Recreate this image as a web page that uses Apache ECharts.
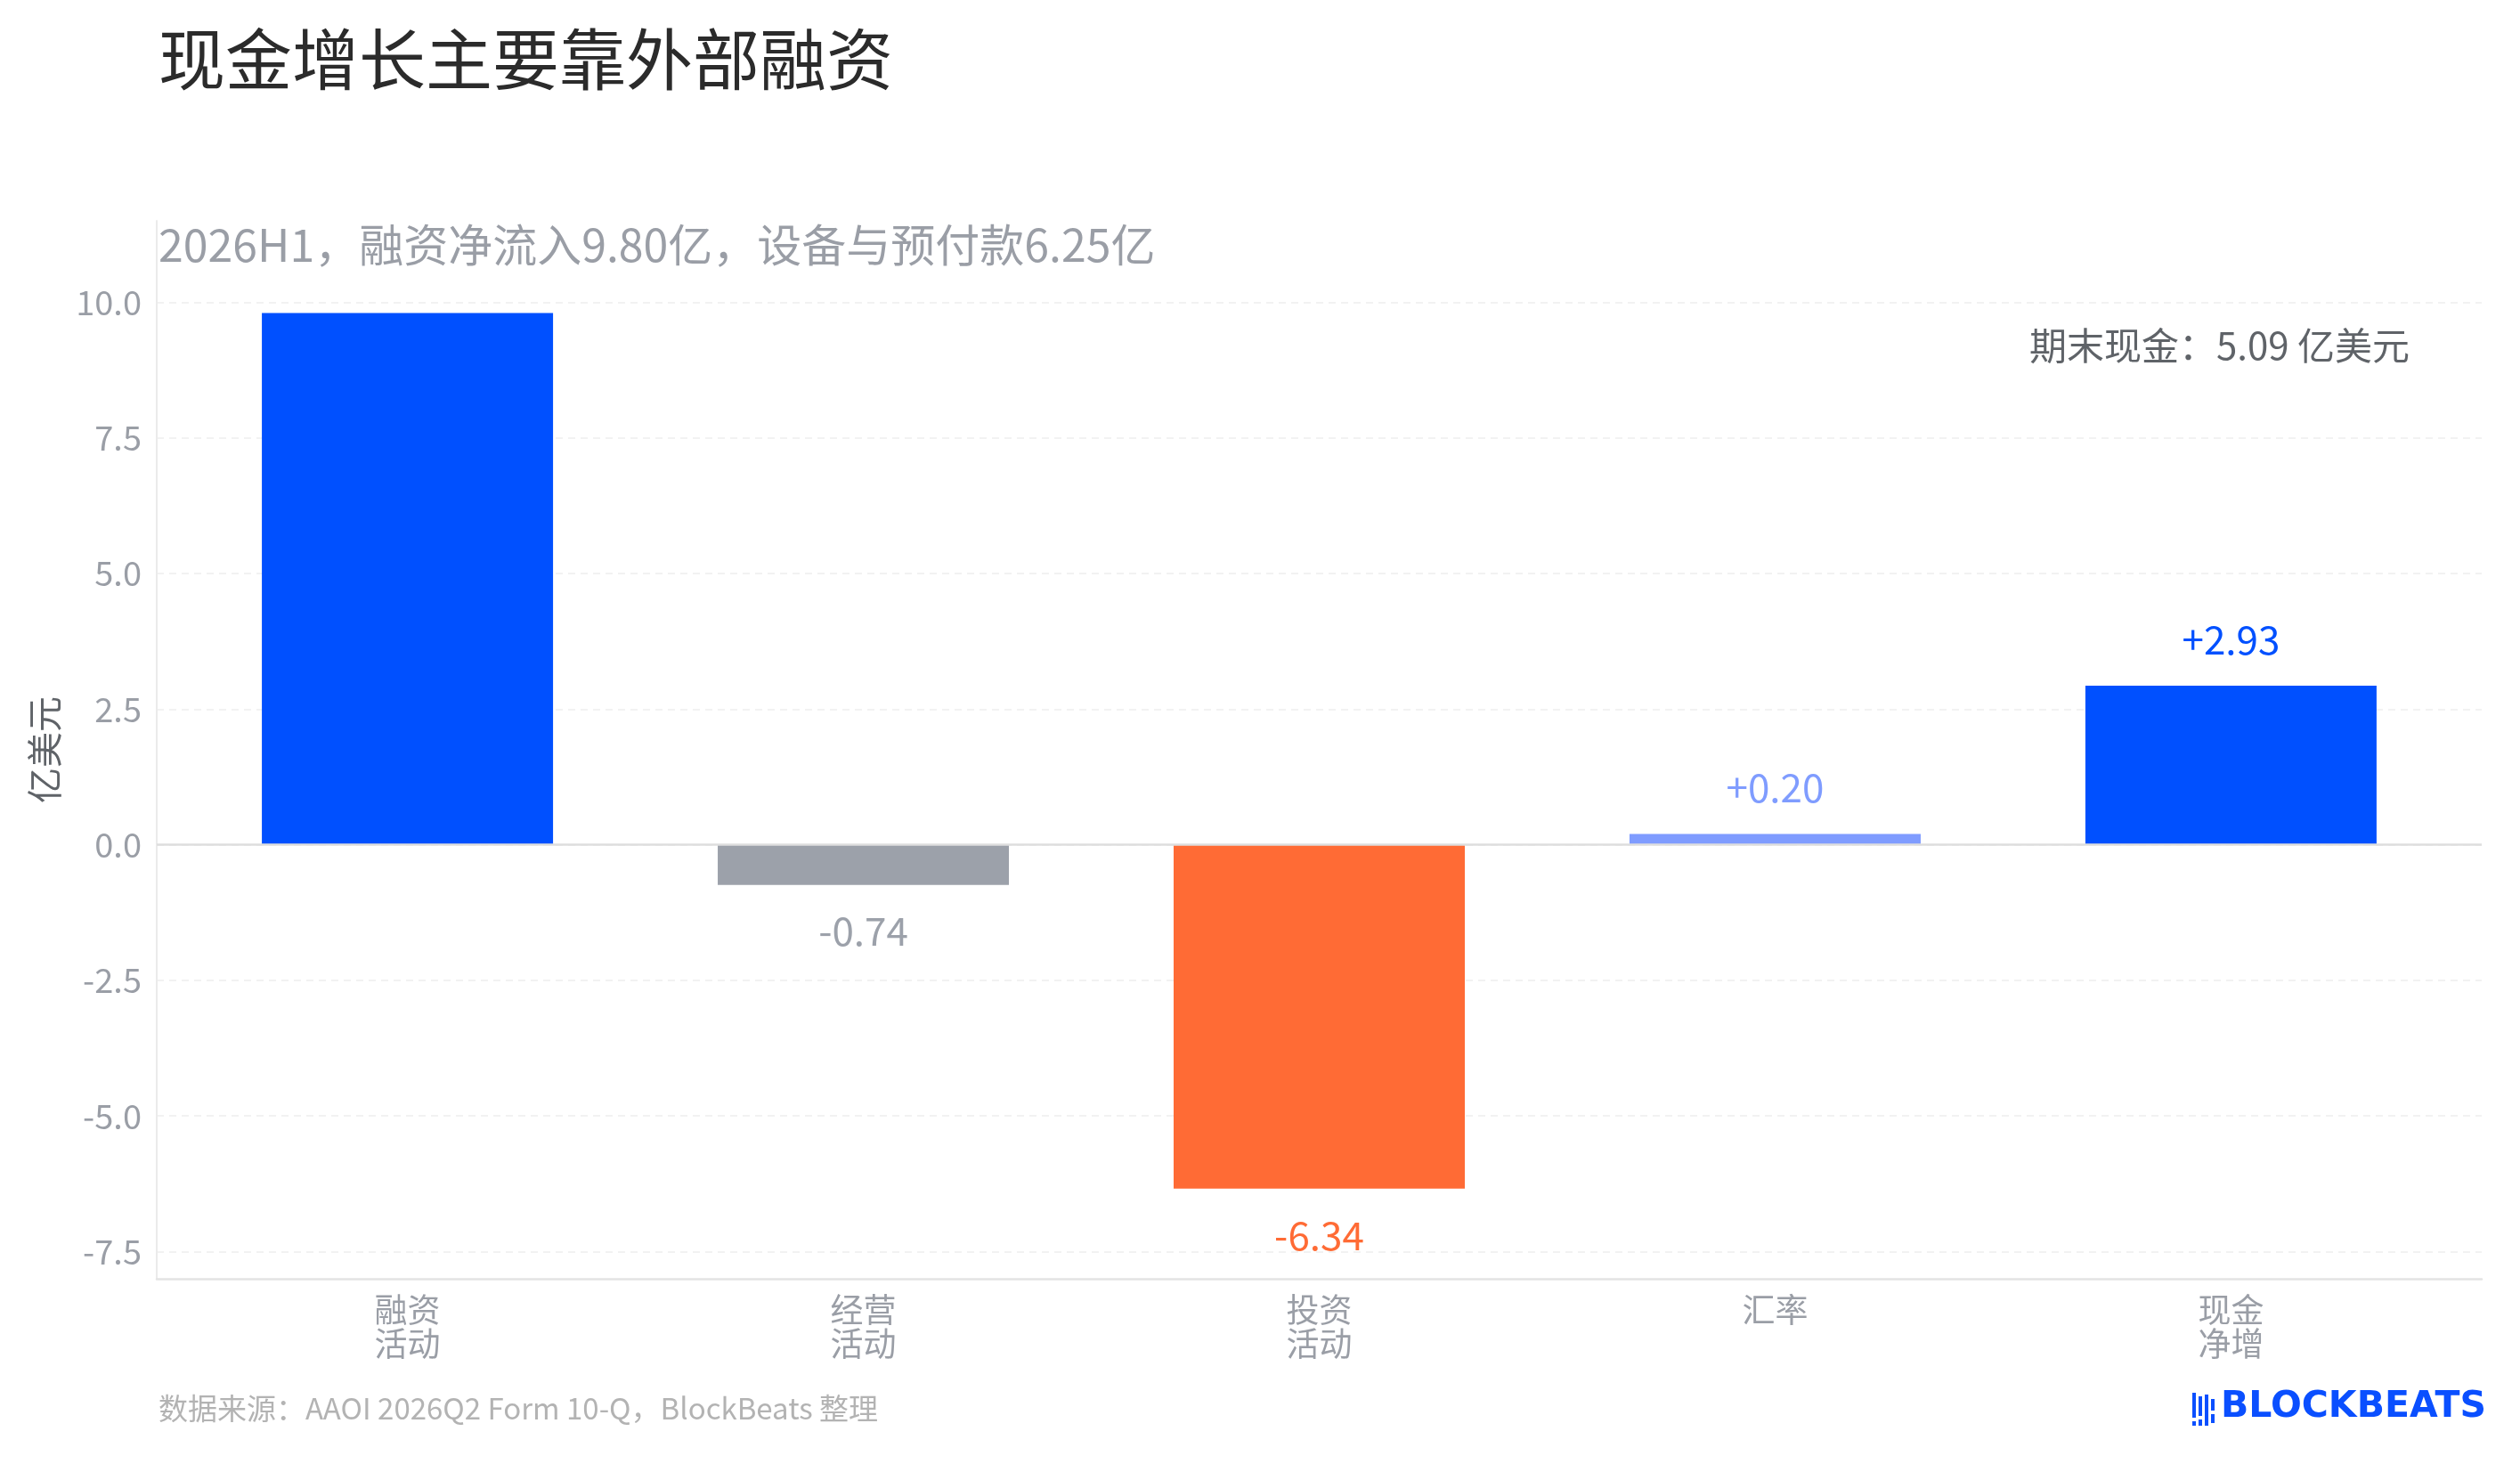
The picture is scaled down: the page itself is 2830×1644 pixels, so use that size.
<!DOCTYPE html>
<html>
<head>
<meta charset="utf-8">
<script src="https://cdn.jsdelivr.net/npm/echarts@6/dist/echarts.min.js"></script>
<style>
  html, body { margin: 0; padding: 0; background: #fff; }
  #chart { width: 2830px; height: 1644px; }
</style>
</head>
<body>
<div id="chart"></div>
<script>
// 现金流瀑布 - 数据
var categories = ['融资\n活动', '经营\n活动', '投资\n活动', '汇率', '现金\n净增'];
var values = [9.80, -0.74, -6.34, 0.20, 2.93];
var showLabel = [false, true, true, true, true];
var yTicks = [-7.5, -5.0, -2.5, 0.0, 2.5, 5.0, 7.5, 10.0];
var xTicks = [0, 1, 2, 3, 4];

var barColors = ['#0050ff', '#9ca1aa', '#ff6b35', '#7f9cff', '#0050ff'];
var FONT = '"Noto Sans CJK SC", "Noto Sans", sans-serif';

var barData = [];
for (var i = 0; i < values.length; i++) {
    var v = values[i];
    barData.push({
        value: [i, v],
        itemStyle: { color: barColors[i] },
        label: {
            show: showLabel[i],
            position: v >= 0 ? 'top' : 'bottom',
            distance: 30,
            color: barColors[i],
            fontSize: 44,
            fontFamily: FONT,
            formatter: (v > 0 ? '+' : '') + v.toFixed(2)
        }
    });
}

var myChart = echarts.init(document.getElementById('chart'));
var option = {
    backgroundColor: '#ffffff',
    animation: false,
    grid: { left: 176, right: 43, top: 248, bottom: 208, containLabel: false },
    xAxis: {
        type: 'value',
        min: -0.55,
        max: 4.55,
        axisLine: { show: true, onZero: false, lineStyle: { color: '#e4e4e4', width: 2.5 } },
        axisTick: { show: false, customValues: xTicks },
        splitLine: { show: false },
        axisLabel: {
            customValues: xTicks,
            margin: 16,
            color: '#9a9ea6',
            fontSize: 37,
            lineHeight: 38,
            fontFamily: FONT,
            verticalAlign: 'top',
            formatter: function (val) { return categories[Math.round(val)]; }
        }
    },
    yAxis: {
        type: 'value',
        min: -8,
        max: 11.5,
        name: '亿美元',
        nameLocation: 'middle',
        nameRotate: 90,
        nameGap: 106,
        nameTextStyle: { color: '#5f6368', fontSize: 40, fontFamily: FONT },
        axisLine: { show: true, onZero: false, lineStyle: { color: '#ebebeb', width: 2 } },
        axisTick: { show: false, customValues: yTicks },
        axisLabel: {
            customValues: yTicks,
            margin: 17,
            color: '#9a9ea6',
            fontSize: 38,
            fontFamily: FONT,
            formatter: function (val) { return val.toFixed(1); }
        },
        splitLine: { show: true, lineStyle: { color: '#eeeeee', width: 1.5, type: [8, 6] } }
    },
    series: [
        {
            type: 'line',
            z: 1,
            data: [],
            silent: true,
            markLine: {
                silent: true,
                symbol: ['none', 'none'],
                label: { show: false },
                lineStyle: { color: '#dedede', width: 2.5, type: 'solid' },
                data: [{ yAxis: 0 }]
            }
        },
        {
            type: 'bar',
            z: 2,
            barWidth: 327,
            data: barData
        }
    ],
    graphic: [
        {
            type: 'text', left: 178, top: 69 - 40,
            style: { text: '现金增长主要靠外部融资', fill: '#2b2b2b', font: '75px ' + FONT }
        },
        {
            type: 'text', left: 178, top: 277 - 27,
            style: { text: '2026H1，融资净流入9.80亿，设备与预付款6.25亿', fill: '#9a9ea6', font: '50px ' + FONT }
        },
        {
            type: 'text', right: 2830 - 2706, top: 390 - 23,
            style: { text: '期末现金：5.09 亿美元', fill: '#5f6368', font: '42px ' + FONT }
        },
        {
            type: 'text', left: 178, top: 1583 - 18,
            style: { text: '数据来源：AAOI 2026Q2 Form 10-Q，BlockBeats 整理', fill: '#b3b3b3', font: '33px ' + FONT }
        },
        {
            type: 'text', left: 2494, top: 1583 - 23,
            style: { text: 'BLOCKBEATS', fill: '#0a4fff', font: 'bold 41px "DejaVu Sans", sans-serif' }
        },
        { type: 'rect', shape: { x: 2462, y: 1564, width: 4, height: 28 }, style: { fill: '#0a4fff' } },
        { type: 'rect', shape: { x: 2462, y: 1596, width: 4, height: 5 }, style: { fill: '#0a4fff' } },
        { type: 'rect', shape: { x: 2469, y: 1568, width: 4, height: 22 }, style: { fill: '#0a4fff' } },
        { type: 'rect', shape: { x: 2469, y: 1594, width: 4, height: 7 }, style: { fill: '#0a4fff' } },
        { type: 'rect', shape: { x: 2476, y: 1566, width: 4, height: 35 }, style: { fill: '#0a4fff' } },
        { type: 'rect', shape: { x: 2483, y: 1571, width: 4, height: 13 }, style: { fill: '#0a4fff' } },
        { type: 'rect', shape: { x: 2483, y: 1588, width: 4, height: 10 }, style: { fill: '#0a4fff' } }
    ]
};
myChart.setOption(option);
</script>
</body>
</html>
